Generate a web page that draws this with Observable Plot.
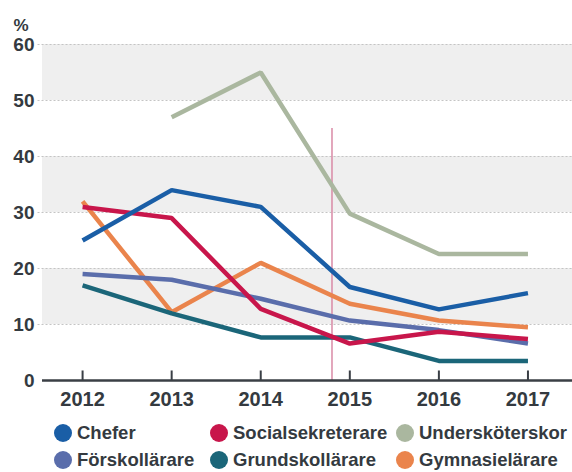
<!DOCTYPE html>
<html>
<head>
<meta charset="utf-8">
<script src="https://cdn.jsdelivr.net/npm/d3@7"></script>
<script src="https://cdn.jsdelivr.net/npm/@observablehq/plot@0.6"></script>
<style>
  body { margin: 0; background: #fff; font-family: "Liberation Sans", Arial, sans-serif; }
  #wrap { position: relative; width: 572px; height: 472px; overflow: hidden; }
  .leg { position: absolute; display: flex; align-items: center; font-size: 18.5px; font-weight: bold; color: #343a40; white-space: nowrap; }
  .dot { width: 18px; height: 18px; border-radius: 50%; margin-right: 5px; flex: none; }
</style>
</head>
<body>
<div id="wrap"></div>
<script>
const years = [2012, 2013, 2014, 2015, 2016, 2017];
const seriesNames = ["Chefer", "Socialsekreterare", "Undersköterskor", "Förskollärare", "Grundskollärare", "Gymnasielärare"];
const chefer = [25, 34, 31, 16.7, 12.7, 15.6];
const socialsekreterare = [31, 29, 12.8, 6.6, 8.7, 7.4];
const underskoterskor = [null, 47, 55, 29.8, 22.6, 22.6];
const forskollarare = [19, 18, 14.6, 10.7, 9, 6.6];
const grundskollarare = [17, 12, 7.7, 7.7, 3.5, 3.5];
const gymnasielarare = [32, 12.2, 21, 13.7, 10.7, 9.5];
const colors = ["#1a5ea6", "#c8164b", "#aab79f", "#5a6dab", "#1b6679", "#ea844c"];
const yTicks = [0, 10, 20, 30, 40, 50, 60];
const bands = [[50, 60], [30, 40], [10, 20]];
const markerYear = 2014.8;

const values = [chefer, socialsekreterare, underskoterskor, forskollarare, grundskollarare, gymnasielarare];
const rows = [];
seriesNames.forEach((s, i) => years.forEach((yr, j) => {
  if (values[i][j] != null) rows.push({series: s, year: yr, value: values[i][j]});
}));
const drawOrder = ["Undersköterskor", "Gymnasielärare", "Grundskollärare", "Förskollärare", "Socialsekreterare", "Chefer"];

const chart = Plot.plot({
  width: 572,
  height: 415,
  marginLeft: 42,
  marginRight: 0,
  marginTop: 44,
  marginBottom: 35,
  style: {fontFamily: "'Liberation Sans', Arial, sans-serif", fontSize: "20px", fontWeight: "bold", color: "#343a40", background: "transparent"},
  x: {domain: [2011.55, 2017.5], axis: null},
  y: {domain: [0, 60], axis: null},
  color: {domain: seriesNames, range: colors},
  marks: [
    Plot.rectY(bands, {x1: 2011.55, x2: 2017.5, y1: d => d[0], y2: d => d[1], fill: "#efefef"}),
    Plot.ruleY(yTicks.filter(d => d > 0), {stroke: "#c4c4c4", strokeWidth: 1, strokeDasharray: "2,2", x1: 2011.5, x2: 2017.5}),
    Plot.ruleX([markerYear], {y1: 0, y2: 45, stroke: "#d98aa6", strokeWidth: 1.5}),
    ...drawOrder.map(s => Plot.line(rows.filter(r => r.series === s), {x: "year", y: "value", stroke: "series", strokeWidth: 4.5, strokeLinejoin: "miter", strokeLinecap: "butt"})),
    Plot.ruleY([0], {stroke: "#3a3f45", strokeWidth: 2.5, x1: 2011.55, x2: 2017.5}),
    Plot.ruleX(years, {y1: 0, y2: 1.7, stroke: "#3a3f45", strokeWidth: 2}),
    Plot.text(years, {x: d => d, y: 0, text: d => String(d), dy: 19, fill: "#343a40", fontSize: 20, fontWeight: "bold"}),
    Plot.text(yTicks, {x: 2011.55, y: d => d, text: d => String(d), dx: -8, textAnchor: "end", fill: "#343a40", fontSize: 19, fontWeight: "bold"}),
    Plot.text(["%"], {frameAnchor: "top-left", dx: -29, dy: -26, textAnchor: "start", text: d => d, fill: "#343a40", fontSize: 17, fontWeight: "bold"})
  ]
});
const wrap = document.getElementById("wrap");
wrap.appendChild(chart);

const legendPos = [[54, 433], [210, 433], [396, 433], [54, 460], [210, 460], [396, 460]];
seriesNames.forEach((s, i) => {
  const el = document.createElement("div");
  el.className = "leg";
  el.style.left = legendPos[i][0] + "px";
  el.style.top = (legendPos[i][1] - 11) + "px";
  el.style.height = "22px";
  const dot = document.createElement("span");
  dot.className = "dot";
  dot.style.background = colors[i];
  el.appendChild(dot);
  el.appendChild(document.createTextNode(s));
  wrap.appendChild(el);
});
</script>
</body>
</html>
